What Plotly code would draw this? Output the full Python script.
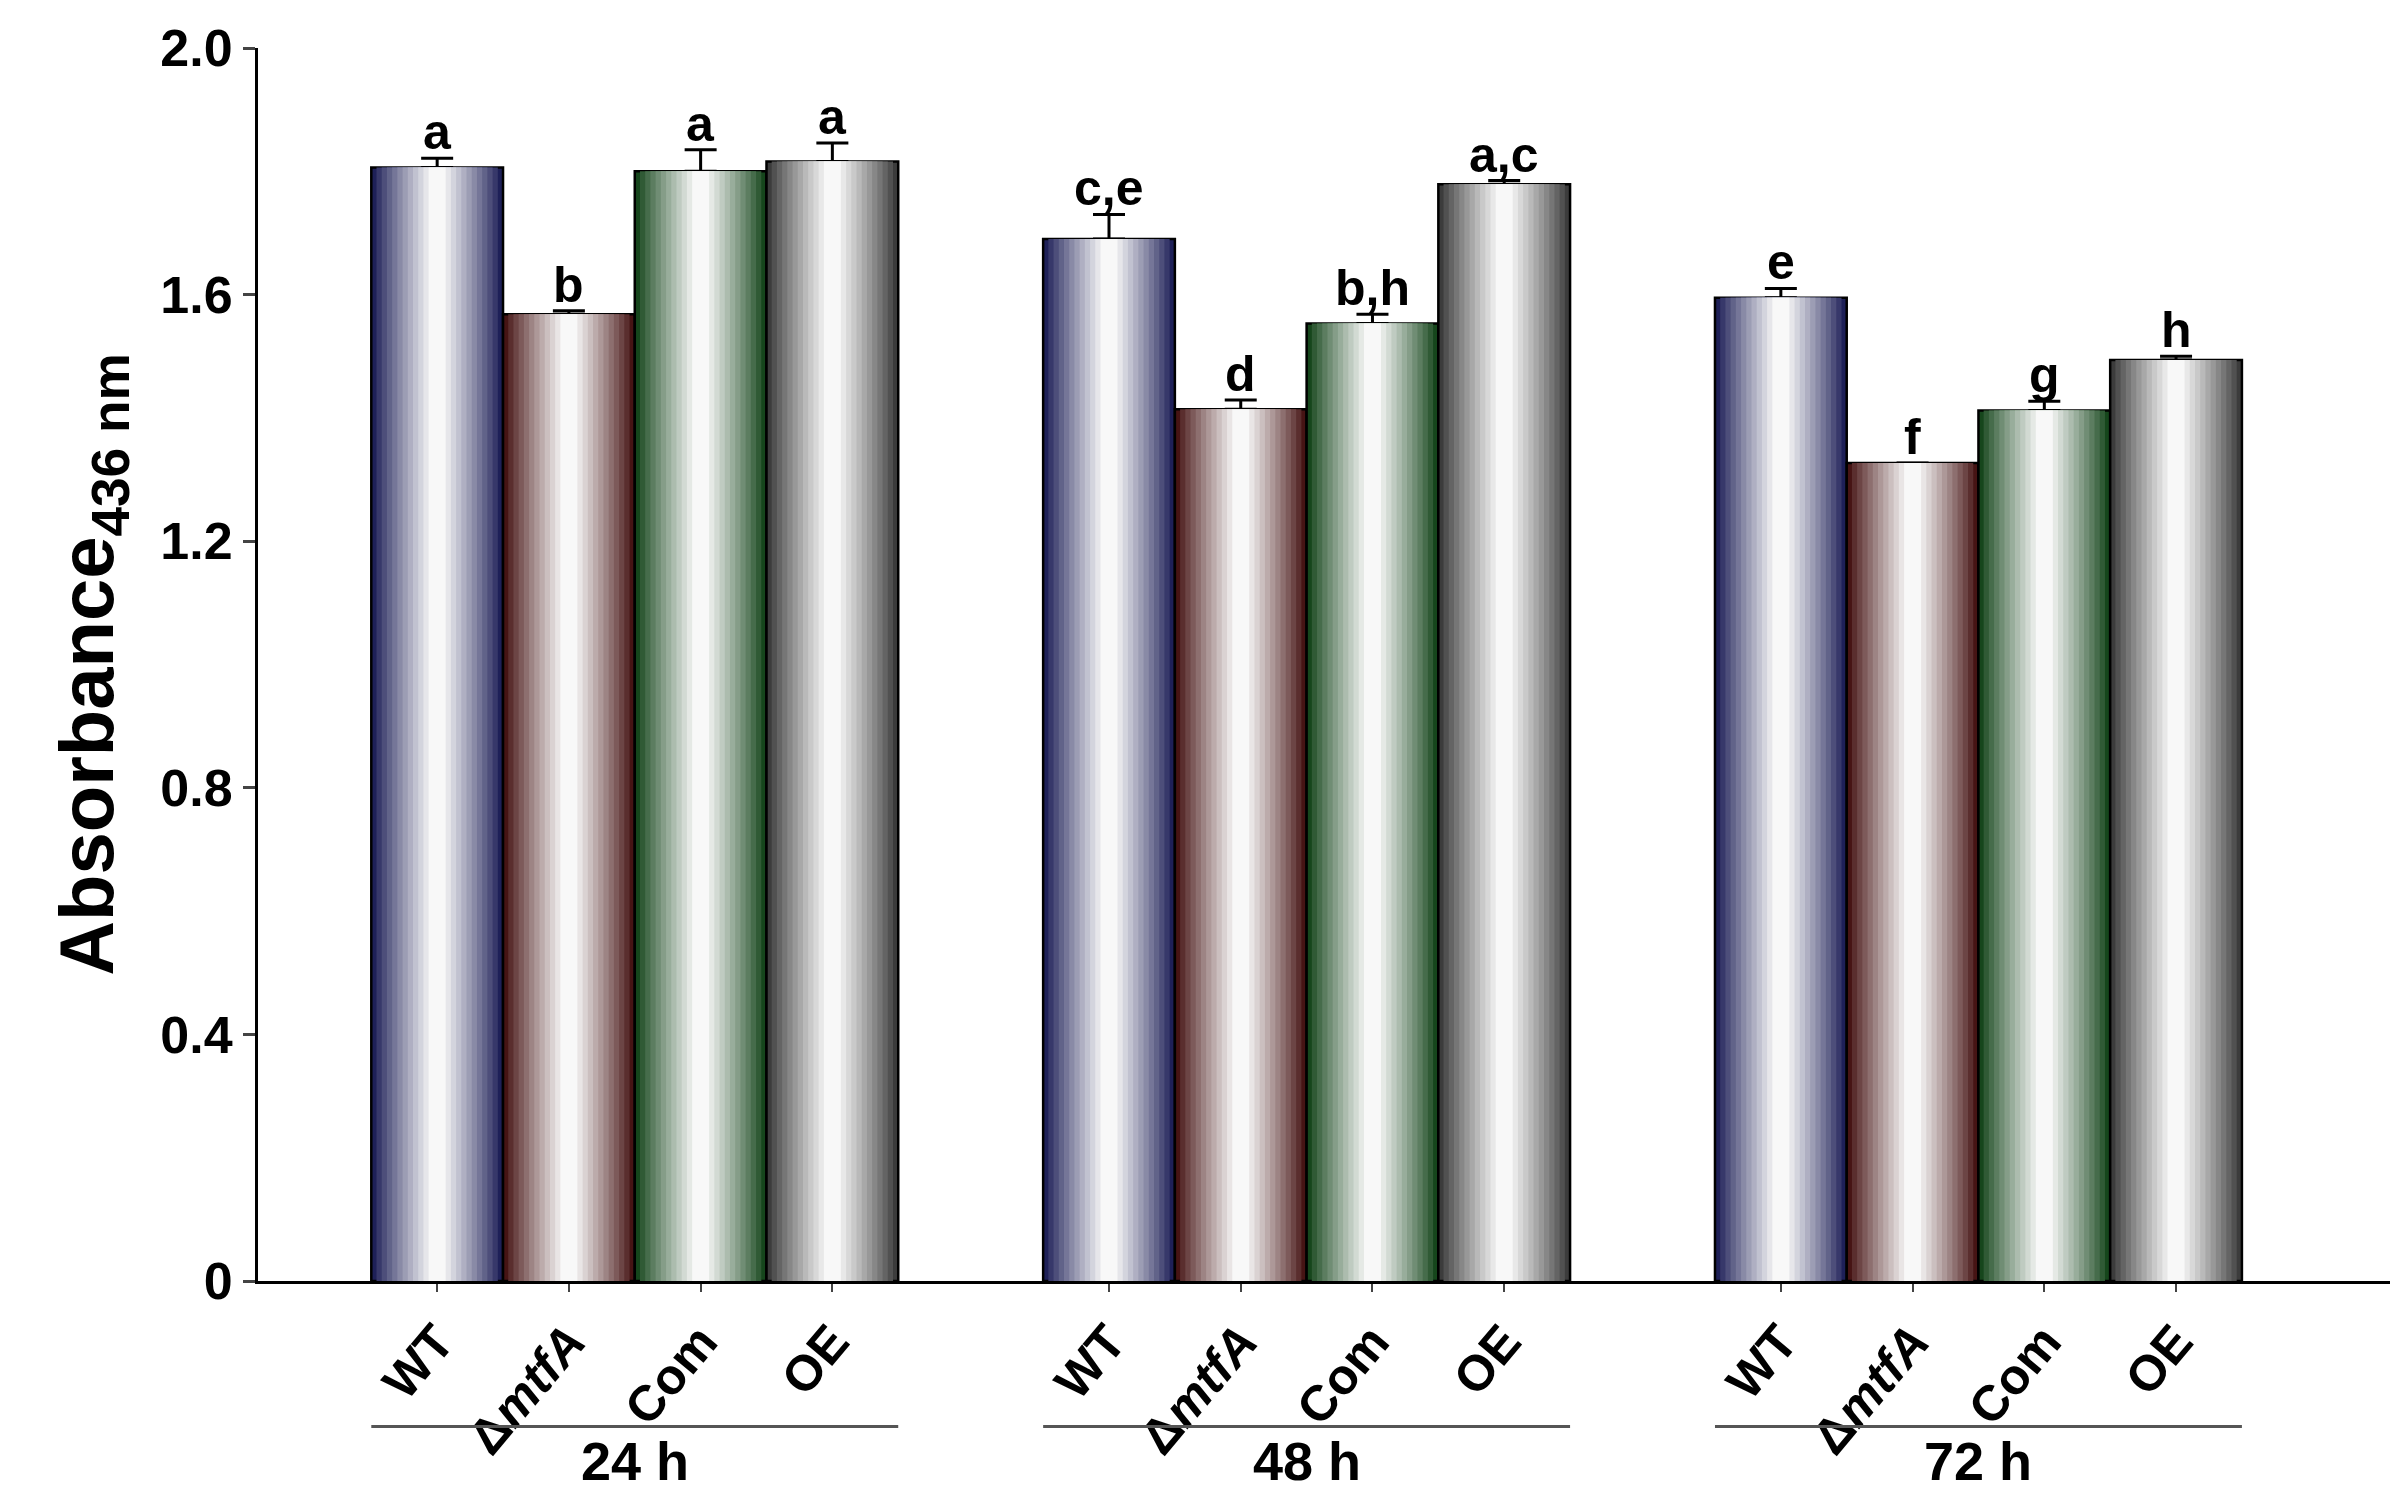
import plotly.graph_objects as go

groups = ["24 h", "48 h", "72 h"]
strains = ["WT", "Δ<i>mtfA</i>", "Com", "OE"]
values = [
    [1.806, 1.568, 1.800, 1.816],
    [1.690, 1.414, 1.553, 1.779],
    [1.595, 1.327, 1.412, 1.494],
]
errors = [
    [0.015, 0.006, 0.035, 0.030],
    [0.040, 0.015, 0.015, 0.006],
    [0.015, 0.000, 0.015, 0.006],
]
letters = [
    ["a", "b", "a", "a"],
    ["c,e", "d", "b,h", "a,c"],
    ["e", "f", "g", "h"],
]
edge_colors = [(30, 32, 88), (70, 20, 20), (22, 70, 28), (60, 60, 60)]

GROUP_STEP = 5.1
N_LAYERS = 12


def mix(c, t):
    # t=0 edge colour, t=1 near white
    r, g, b = [int(v + (248 - v) * t) for v in c]
    return f"rgb({r},{g},{b})"


fig = go.Figure()
xs_all, ticks_all = [], []
for gi, g in enumerate(groups):
    for si, s in enumerate(strains):
        x = gi * GROUP_STEP + si
        xs_all.append(x)
        ticks_all.append(f"<b>{s}</b>")
        v = values[gi][si]
        for k in range(N_LAYERS):
            w = 1.0 - k * (0.95 / N_LAYERS)
            t = (k / (N_LAYERS - 1)) ** 0.9
            first = k == 0
            fig.add_trace(go.Bar(
                x=[x], y=[v], width=w,
                marker=dict(color=mix(edge_colors[si], t),
                            line=dict(color="black", width=2.5 if first else 0)),
                error_y=dict(type="data", array=[errors[gi][si]], arrayminus=[0],
                             symmetric=False, color="black", thickness=3, width=16,
                             visible=first),
                showlegend=False, hoverinfo="skip",
            ))
        fig.add_annotation(x=x, y=v + errors[gi][si], text=f"<b>{letters[gi][si]}</b>",
                           showarrow=False, yanchor="bottom", yshift=-4,
                           font=dict(size=50, color="black"))
    # group underline and label
    x0 = gi * GROUP_STEP - 0.5
    x1 = gi * GROUP_STEP + 3.5
    fig.add_shape(type="line", x0=x0, x1=x1, xref="x", y0=-0.118, y1=-0.118, yref="paper",
                  line=dict(color="#555555", width=3))
    fig.add_annotation(x=(x0 + x1) / 2, xref="x", y=-0.12, yref="paper", yanchor="top",
                       text=f"<b>{g}</b>", showarrow=False, font=dict(size=54, color="black"))

fig.update_layout(
    width=2398, height=1495,
    barmode="overlay",
    plot_bgcolor="white", paper_bgcolor="white",
    font=dict(family="Liberation Sans, Arial", color="black"),
    margin=dict(l=250, r=6, t=40, b=222),
    xaxis=dict(range=[-1.36, 14.9], tickvals=xs_all, ticktext=ticks_all,
               tickangle=-50, tickfont=dict(size=50), showline=True, linecolor="black",
               linewidth=3, ticks="outside", ticklen=8, tickwidth=2, showgrid=False,
               zeroline=False),
    yaxis=dict(range=[0, 2.0], tickvals=[0, 0.4, 0.8, 1.2, 1.6, 2.0],
               ticktext=["<b>0</b>", "<b>0.4</b>", "<b>0.8</b>", "<b>1.2</b>", "<b>1.6</b>", "<b>2.0</b>"],
               tickfont=dict(size=52), showline=True, linecolor="black", linewidth=3,
               ticks="outside", ticklen=12, tickwidth=3, showgrid=False, zeroline=False,
               title=dict(text="<b>Absorbance<sub>436 nm</sub></b>", font=dict(size=76), standoff=22)),
)

fig.write_html("out.html")
